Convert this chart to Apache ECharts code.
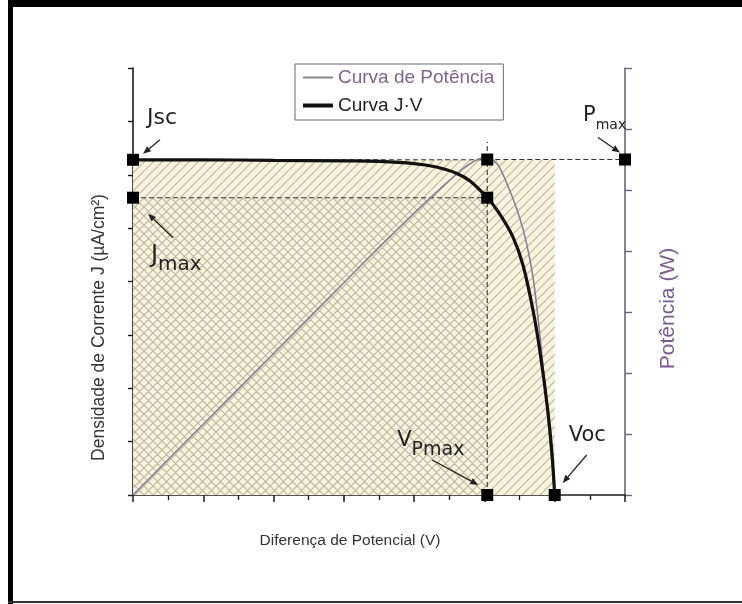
<!DOCTYPE html>
<html><head><meta charset="utf-8">
<script src="https://cdn.jsdelivr.net/npm/echarts@6/dist/echarts.min.js"></script>
<style>html,body{margin:0;padding:0;background:#fff}#c{width:742px;height:604px}</style>
</head><body><div id="c"></div>
<script>
// ---- data ----
const vTicks = [0, 1, 2, 3, 4, 5, 6, 7];           // voltage axis (unlabelled)
const jTicks = [0, 1, 2, 3, 4, 5, 6, 7, 8];        // current density axis (unlabelled)
const pTicks = [0, 1, 2, 3, 4, 5, 6, 7];           // power axis (unlabelled)

const jvVoltage = [0, 1, 2, 3, 3.5, 4.0, 4.3, 4.6, 4.8, 5.04, 5.2, 5.4, 5.55, 5.7, 5.8, 5.9, 5.96, 6.0];
const jvCurrent = [6.28, 6.28, 6.27, 6.26, 6.25, 6.21, 6.15, 6.03, 5.88, 5.57, 5.3, 4.85, 4.3, 3.4, 2.6, 1.6, 0.8, 0];

const pVoltage = [0, 1, 2, 3, 3.5, 4.0, 4.4, 4.7, 4.9, 5.05, 5.2, 5.35, 5.5, 5.6, 5.7, 5.8, 5.9, 6.0];
const pPower   = [0, 1.16, 2.32, 3.48, 4.06, 4.62, 5.05, 5.35, 5.5, 5.54, 5.4, 5.02, 4.55, 4.12, 3.5, 2.5, 1.3, 0];

const Jsc = 6.28, Jmax = 5.57, Vmp = 5.04, Voc = 6.0, Pmax = 5.5;
const vMax = 7;
const vmpLineTop = 6.62;

const legendNames = ['Curva de Potência', 'Curva J·V'];

// ---- helpers ----
function zip(a, b) { return a.map((v, i) => [v, b[i]]); }
function hatch(cross) {
  const s = 9, c = document.createElement('canvas');
  c.width = s; c.height = s;
  const g = c.getContext('2d');
  g.fillStyle = '#f7f3dc'; g.fillRect(0, 0, s, s);
  g.strokeStyle = '#bdb8a2'; g.lineWidth = 1.2;
  g.beginPath();
  g.moveTo(-1, s + 1); g.lineTo(s + 1, -1);
  g.moveTo(-1, 1); g.lineTo(1, -1);
  g.moveTo(s - 1, s + 1); g.lineTo(s + 1, s - 1);
  if (cross) {
    g.moveTo(-1, -1); g.lineTo(s + 1, s + 1);
    g.moveTo(s - 1, -1); g.lineTo(s + 1, 1);
    g.moveTo(-1, s - 1); g.lineTo(1, s + 1);
  }
  g.stroke();
  return c;
}

const chart = echarts.init(document.getElementById('c'), null, { renderer: 'canvas' });
const dash = { color: '#333', width: 1.1, type: [5, 3] };
const sq = { symbol: 'rect', symbolSize: 12, itemStyle: { color: '#000', opacity: 1 } };

chart.setOption({
  backgroundColor: '#fff',
  animation: false,
  grid: { left: 133, right: 117, top: 68, bottom: 109, containLabel: false },
  legend: {
    left: 295, top: 64, orient: 'vertical',
    borderColor: '#666', borderWidth: 1, padding: [4, 9, 5, 6],
    itemWidth: 30, itemHeight: 12, itemGap: 9,
    textStyle: { fontFamily: 'Liberation Sans', fontSize: 19 },
    itemStyle: { opacity: 0 },
    data: [
      { name: legendNames[0], textStyle: { color: '#7d6490' }, lineStyle: { color: '#8a7d98', width: 2 } },
      { name: legendNames[1], textStyle: { color: '#222' }, lineStyle: { color: '#111', width: 4 } }
    ]
  },
  xAxis: {
    type: 'value', min: vTicks[0], max: vTicks[vTicks.length - 1], interval: 1,
    name: 'Diferença de Potencial (V)', nameLocation: 'middle', nameGap: 38,
    nameTextStyle: { fontFamily: 'Liberation Sans', fontSize: 15.5, color: '#333', padding: [0, 58, 0, 0] },
    axisLine: { lineStyle: { color: '#1a1a1a', width: 1.6 } },
    axisTick: { show: true, length: 7, lineStyle: { color: '#1a1a1a', width: 1.5 } },
    minorTick: { show: true, splitNumber: 2, length: 5, lineStyle: { color: '#1a1a1a', width: 1.3 } },
    axisLabel: { show: false }, splitLine: { show: false }
  },
  yAxis: [{
    type: 'value', min: jTicks[0], max: jTicks[jTicks.length - 1], interval: 1,
    name: 'Densidade de Corrente J (µA/cm²)', nameLocation: 'middle', nameGap: 25,
    nameTextStyle: { fontFamily: 'Liberation Sans', fontSize: 17.5, color: '#333', padding: [0, 92, 0, 0] },
    axisLine: { show: true, lineStyle: { color: '#1a1a1a', width: 1.6 } },
    axisTick: { show: true, length: 5, lineStyle: { color: '#1a1a1a', width: 1.4 } },
    axisLabel: { show: false }, splitLine: { show: false }
  }, {
    type: 'value', position: 'right', min: pTicks[0], max: pTicks[pTicks.length - 1], interval: 1,
    name: 'Potência (W)', nameLocation: 'middle', nameGap: 33,
    nameTextStyle: { fontFamily: 'Liberation Sans', fontSize: 21, color: '#7a5a8c', padding: [0, 54, 0, 0] },
    axisLine: { show: true, lineStyle: { color: '#6f6380', width: 1.6 } },
    axisTick: { show: true, length: 7, lineStyle: { color: '#6f6380', width: 1.4 } },
    axisLabel: { show: false }, splitLine: { show: false }
  }],
  series: [
    { type: 'line', z: 1, data: [], silent: true,
      markArea: { silent: true, label: { show: false },
        data: [
          [{ coord: [0, Jsc], itemStyle: { color: { image: hatch(false), repeat: 'repeat' } } }, { coord: [Voc, 0] }],
          [{ coord: [0, Jmax], itemStyle: { color: { image: hatch(true), repeat: 'repeat' } } }, { coord: [Vmp, 0] }]
        ] } },
    { type: 'line', z: 2, symbol: 'none', silent: true, lineStyle: dash, data: [[0, Jsc], [Vmp, Jsc]] },
    { type: 'line', z: 2, symbol: 'none', silent: true, lineStyle: dash, yAxisIndex: 1, data: [[Vmp, Pmax], [vMax, Pmax]] },
    { type: 'line', z: 2, symbol: 'none', silent: true, lineStyle: dash, data: [[0, Jmax], [Vmp, Jmax]] },
    { type: 'line', z: 2, symbol: 'none', silent: true, lineStyle: dash, data: [[Vmp, 0], [Vmp, vmpLineTop]] },
    { name: legendNames[0], type: 'line', z: 3, yAxisIndex: 1, symbol: 'none', smooth: 0.25,
      lineStyle: { color: '#8a7d98', width: 1.6 }, itemStyle: { color: '#8a7d98' },
      data: zip(pVoltage, pPower) },
    { name: legendNames[1], type: 'line', z: 4, symbol: 'none', smooth: 0.35,
      lineStyle: { color: '#111', width: 3.2 }, itemStyle: { color: '#111' },
      data: zip(jvVoltage, jvCurrent) },
    Object.assign({ type: 'scatter', z: 5, data: [[0, Jsc], [0, Jmax], [Vmp, Jmax], [Vmp, 0], [Voc, 0]] }, sq),
    Object.assign({ type: 'scatter', z: 5, yAxisIndex: 1, data: [[Vmp, Pmax], [vMax, Pmax]] }, sq)
  ]
});

// ---- annotations positioned from the data points ----
const px = (v, j) => chart.convertToPixel({ xAxisIndex: 0, yAxisIndex: 0 }, [v, j]);
const pxP = (v, p) => chart.convertToPixel({ xAxisIndex: 0, yAxisIndex: 1 }, [v, p]);
function arrow(x1, y1, x2, y2) {
  const a = Math.atan2(y2 - y1, x2 - x1), L = 8, W = 3.2;
  const bx = x2 - L * Math.cos(a), by = y2 - L * Math.sin(a);
  const nx = -Math.sin(a) * W, ny = Math.cos(a) * W;
  return [
    { type: 'line', silent: true, z: 10, shape: { x1, y1, x2: bx, y2: by }, style: { stroke: '#222', lineWidth: 1.3 } },
    { type: 'polygon', silent: true, z: 10, shape: { points: [[x2, y2], [bx + nx, by + ny], [bx - nx, by - ny]] }, style: { fill: '#222' } }
  ];
}
function rich(a, s, pad) {
  return {
    a: { fontFamily: 'DejaVu Sans', fontSize: a, color: '#222', padding: [0, 0, pad, 0], verticalAlign: 'bottom' },
    s: { fontFamily: 'DejaVu Sans', fontSize: s, color: '#222', verticalAlign: 'bottom' }
  };
}
function label(x, y, text, r) {
  return { type: 'text', silent: true, z: 10, x, y, style: { text, rich: r, fill: '#222', textVerticalAlign: 'middle' } };
}
const pJsc = px(0, Jsc), pJmax = px(0, Jmax), pVmp = px(Vmp, 0), pVoc = px(Voc, 0), pPm = pxP(vMax, Pmax);
const g = [];
g.push(label(pJsc[0] + 14, pJsc[1] - 42, '{a|Jsc}', rich(22, 16, 0)));
g.push(...arrow(pJsc[0] + 27, pJsc[1] - 20, pJsc[0] + 10, pJsc[1] - 6));
g.push(label(pPm[0] - 42, pPm[1] - 41, '{a|P}{s|max}', rich(21, 14, 6)));
g.push(...arrow(pPm[0] - 27, pPm[1] - 22, pPm[0] - 5, pPm[1] - 7));
g.push(label(pJmax[0] + 18, pJmax[1] + 62, '{a|J}{s|max}', rich(24, 20, 7)));
g.push(...arrow(pJmax[0] + 40, pJmax[1] + 40, pJmax[0] + 15, pJmax[1] + 16));
g.push(label(pVmp[0] - 90, pVmp[1] - 50, '{a|V}{s|Pmax}', rich(21, 19, 8)));
g.push(...arrow(pVmp[0] - 55, pVmp[1] - 35, pVmp[0] - 9, pVmp[1] - 10));
g.push(label(pVoc[0] + 14, pVoc[1] - 59, '{a|Voc}', rich(21, 16, 0)));
g.push(...arrow(pVoc[0] + 32, pVoc[1] - 40, pVoc[0] + 8, pVoc[1] - 12));
// frame of the figure
g.push({ type: 'rect', silent: true, z: 20, shape: { x: 8, y: 0, width: 734, height: 7 }, style: { fill: '#000' } });
g.push({ type: 'rect', silent: true, z: 20, shape: { x: 8, y: 0, width: 5, height: 604 }, style: { fill: '#000' } });
g.push({ type: 'rect', silent: true, z: 20, shape: { x: 8, y: 601, width: 734, height: 2 }, style: { fill: '#333' } });
chart.setOption({ graphic: g });
</script></body></html>
